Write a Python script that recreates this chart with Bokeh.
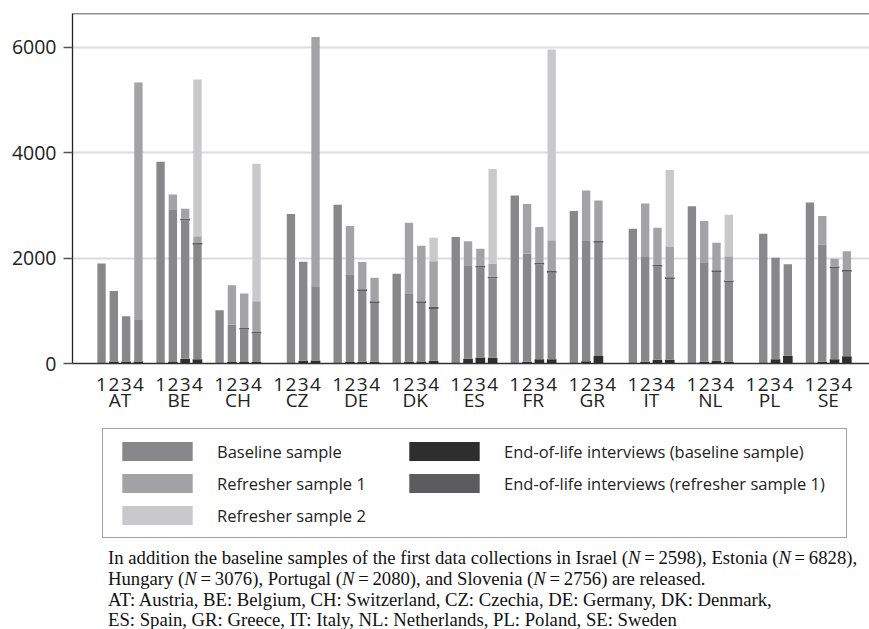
from bokeh.plotting import figure
from bokeh.models import (Range1d, LinearAxis, FixedTicker, ColumnDataSource,
                          Legend, LegendItem, Span, Div)
from bokeh.layouts import column
from bokeh.embed import file_html
from bokeh.resources import INLINE

# ---------------- data ----------------
countries = ["AT", "BE", "CH", "CZ", "DE", "DK", "ES", "FR", "GR", "IT", "NL", "PL", "SE"]
waves = ["1", "2", "3", "4"]

# segment heights (stack order bottom -> top), per country, waves 1..4
# None = country not part of that wave
eol_baseline = [
    [0, 40, 40, 40], [0, 30, 88, 82], [0, 30, 30, 30], [None, 0, 50, 55],
    [0, 30, 35, 35], [0, 35, 40, 50], [0, 88, 114, 107], [0, 35, 82, 82],
    [0, 45, 140, None], [0, 35, 70, 70], [0, 35, 50, 35], [None, 0, 82, 145],
    [0, 35, 82, 139],
]
baseline = [
    [1895, 1337, 857, 800], [3827, 2894, 2627, 2172], [1010, 709, 614, 538],
    [None, 2835, 1882, 1397], [3012, 1662, 1342, 1114], [1705, 1297, 1109, 986],
    [2400, 1775, 1705, 1510], [3189, 2049, 1794, 1642], [2892, 2292, 2152, None],
    [2558, 1986, 1768, 1534], [2981, 1885, 1687, 1512], [None, 2463, 1926, 1737],
    [3056, 2219, 1730, 1604],
]
eol_refresher1 = [
    [0, 0, 0, 0], [0, 0, 30, 30], [0, 0, 30, 30], [None, 0, 0, 0],
    [0, 0, 30, 30], [0, 0, 30, 35], [0, 0, 30, 30], [0, 0, 30, 30],
    [0, 0, 30, None], [0, 0, 30, 30], [0, 0, 30, 30], [None, 0, 0, 0],
    [0, 0, 30, 30],
]
refresher1 = [
    [0, 0, 0, 4490], [0, 284, 191, 128], [0, 745, 652, 583], [None, 0, 0, 4743],
    [0, 916, 519, 450], [0, 1339, 1056, 868], [0, 455, 330, 248], [0, 941, 683, 583],
    [0, 947, 772, None], [0, 1016, 709, 576], [0, 783, 525, 456], [None, 0, 0, 0],
    [0, 543, 147, 355],
]
refresher2 = [
    [0, 0, 0, 0], [0, 0, 0, 2975], [0, 0, 0, 2608], [None, 0, 0, 0],
    [0, 0, 0, 0], [0, 0, 0, 448], [0, 0, 0, 1793], [0, 0, 0, 3618],
    [0, 0, 0, None], [0, 0, 0, 1459], [0, 0, 0, 790], [None, 0, 0, 0],
    [0, 0, 0, 0],
]
y_ticks = [0, 2000, 4000, 6000]

series_labels = ["Baseline sample", "Refresher sample 1", "Refresher sample 2",
                 "End-of-life interviews (baseline sample)",
                 "End-of-life interviews (refresher sample 1)"]

footnote_lines = [
    "In addition the baseline samples of the first data collections in Israel (<i>N</i>&#8201;=&#8201;2598), Estonia (<i>N</i>&#8201;=&#8201;6828),",
    "Hungary (<i>N</i>&#8201;=&#8201;3076), Portugal (<i>N</i>&#8201;=&#8201;2080), and Slovenia (<i>N</i>&#8201;=&#8201;2756) are released.",
    "AT: Austria, BE: Belgium, CH: Switzerland, CZ: Czechia, DE: Germany, DK: Denmark,",
    "ES: Spain, GR: Greece, IT: Italy, NL: Netherlands, PL: Poland, SE: Sweden",
]

# ---------------- styling ----------------
C_BASE = "#88888c"
C_REF1 = "#a3a3a7"
C_REF2 = "#c9c9cb"
C_EOLB = "#2e2e2e"
C_EOLR = "#5c5c5e"
FONT = "Open Sans"

WAVE_STEP = 5
GROUP_STEP = 24
STACK = ["eol_b", "base", "eol_r1", "ref1", "ref2"]
STACK_COLORS = [C_EOLB, C_BASE, C_EOLR, C_REF1, C_REF2]
STACK_WIDTHS = [3.9, 3.4, 3.9, 3.4, 3.4]

cols = dict(x=[], eol_b=[], base=[], eol_r1=[], ref1=[], ref2=[])
for gi in range(len(countries)):
    for wi in range(len(waves)):
        if baseline[gi][wi] is None:
            continue
        cols["x"].append(gi * GROUP_STEP + wi * WAVE_STEP)
        cols["eol_b"].append(eol_baseline[gi][wi])
        cols["base"].append(baseline[gi][wi])
        cols["eol_r1"].append(eol_refresher1[gi][wi])
        cols["ref1"].append(refresher1[gi][wi])
        cols["ref2"].append(refresher2[gi][wi])
src = ColumnDataSource(cols)

p = figure(width=869, height=423, x_range=Range1d(-11.8, 312.2), y_range=Range1d(0, 6640),
           output_backend="svg", toolbar_location=None, x_axis_type=None,
           min_border_left=72, min_border_right=0, min_border_top=13, min_border_bottom=60)
p.outline_line_color = None
p.background_fill_color = "white"

p.vbar_stack(STACK, x="x", width=STACK_WIDTHS, fill_color=STACK_COLORS,
             line_color=None, source=src)

# y axis
yax = p.yaxis[0]
yax.ticker = FixedTicker(ticks=y_ticks)
yax.major_tick_in = 0
yax.major_tick_out = 9
yax.major_tick_line_color = "#555555"
yax.major_tick_line_width = 1.3
yax.axis_line_color = "#222222"
yax.axis_line_width = 1.3
yax.major_label_standoff = 7
yax.major_label_text_font = FONT
yax.major_label_text_font_size = "19.5px"
yax.major_label_text_color = "#222222"

p.xgrid.visible = False
p.ygrid.ticker = FixedTicker(ticks=y_ticks)
p.ygrid.grid_line_color = "#dcdcdc"
p.ygrid.grid_line_width = 2

p.add_layout(Span(location=6640, dimension="width", line_color="#222222", line_width=1.5))

# x axes: waves and countries
wave_ticks, wave_over = [], {}
for gi in range(len(countries)):
    for wi, w in enumerate(waves):
        t = gi * GROUP_STEP + wi * WAVE_STEP
        wave_ticks.append(t)
        wave_over[t] = w
ax1 = LinearAxis(ticker=FixedTicker(ticks=wave_ticks), major_label_overrides=wave_over)
ax1.axis_line_color = "#333333"
ax1.axis_line_width = 1.5
ax1.major_tick_in = 0
ax1.major_tick_out = 0
ax1.major_tick_line_color = None
ax1.major_label_standoff = 14
ax1.major_label_text_font = FONT
ax1.major_label_text_font_size = "19px"
ax1.major_label_text_color = "#222222"
p.add_layout(ax1, "below")

c_ticks, c_over = [], {}
for gi, c in enumerate(countries):
    t = gi * GROUP_STEP + 1.5 * WAVE_STEP
    c_ticks.append(t)
    c_over[t] = c
ax2 = LinearAxis(ticker=FixedTicker(ticks=c_ticks), major_label_overrides=c_over)
ax2.axis_line_color = None
ax2.major_tick_in = 0
ax2.major_tick_out = 0
ax2.major_tick_line_color = None
ax2.major_label_standoff = -7
ax2.major_label_text_font = FONT
ax2.major_label_text_font_size = "19px"
ax2.major_label_text_color = "#222222"
p.add_layout(ax2, "below")

# ---------------- legend figure ----------------
# same data stacked again, but with ranges that keep the bars out of view,
# so that the legend has real renderers to draw its swatches from
lf = figure(width=869, height=120, x_range=Range1d(-1000, -999), y_range=Range1d(-2000, -1000),
            output_backend="svg", toolbar_location=None,
            x_axis_location=None, y_axis_location=None, min_border=0)
lf.outline_line_color = None
for g in lf.grid:
    g.visible = False
lrs = lf.vbar_stack(STACK, x="x", width=STACK_WIDTHS, fill_color=STACK_COLORS,
                    line_color=None, source=src)
r_eolb, r_base, r_eolr, r_ref1, r_ref2 = lrs

common = dict(orientation="vertical", glyph_width=88, glyph_height=24, label_height=24,
              spacing=8, margin=0, label_standoff=16,
              label_text_font=FONT, label_text_font_size="16.5px", label_text_color="#222222")
legA = Legend(items=[LegendItem(label=series_labels[0], renderers=[r_base]),
                     LegendItem(label=series_labels[1], renderers=[r_ref1]),
                     LegendItem(label=series_labels[2], renderers=[r_ref2])],
              location=(30, 5), padding=10, label_width=619,
              border_line_color="#444444", border_line_width=1.5,
              background_fill_color="white", background_fill_alpha=1, **common)
legB = Legend(items=[LegendItem(label=series_labels[3], renderers=[r_eolb]),
                     LegendItem(label=series_labels[4], renderers=[r_eolr])],
              location=(328, 48), padding=0, border_line_color=None,
              background_fill_alpha=0, **common)
lf.add_layout(legA)
lf.add_layout(legB)

# ---------------- footnote ----------------
html = ('<div style="font-family:\'Liberation Serif\',serif; font-size:18.7px; line-height:20.8px; '
        'color:#111; padding-left:103px; white-space:nowrap;">' + "<br>".join(footnote_lines) + '</div>')
note = Div(text=html, width=869, height=84)

layout = column(p, lf, note, spacing=0)
open("out.html", "w").write(file_html(layout, INLINE))
